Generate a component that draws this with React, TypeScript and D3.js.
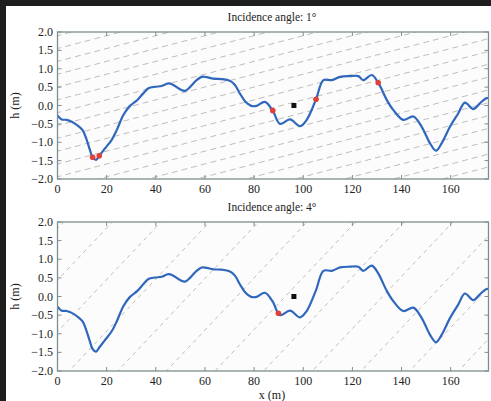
import React from "react";
import * as d3 from "d3";

// Surface profile h(x) along the transect
const profileX = [0, 1.7, 3.7, 5.8, 8.5, 10.2, 11.9, 13.2, 14.3, 15.7, 17, 19.3, 22, 24.1, 26.8, 29.5, 32.5, 34.9, 37, 39.7, 42.4, 45.1, 47.1, 49.9, 51.9, 53.9, 56.6, 58.7, 60.7, 63.4, 66.8, 70.2, 72.2, 74.2, 76.5, 78.8, 81, 84.4, 87.6, 90.5, 94.6, 98.7, 101.4, 105.2, 108.2, 111.6, 115, 119, 122.4, 124.4, 127.9, 130.5, 134, 136.6, 140.7, 144.8, 148.2, 151.6, 154, 156.3, 159.7, 163.1, 165.8, 169.2, 171.9, 174.6, 177];
const profileH = [-0.27, -0.38, -0.39, -0.44, -0.56, -0.67, -0.94, -1.21, -1.41, -1.48, -1.37, -1.17, -0.94, -0.67, -0.26, -0.01, 0.15, 0.33, 0.47, 0.51, 0.53, 0.6, 0.56, 0.44, 0.4, 0.5, 0.69, 0.78, 0.77, 0.73, 0.72, 0.67, 0.56, 0.33, 0.1, -0.01, -0.01, 0.1, -0.14, -0.5, -0.38, -0.56, -0.39, 0.17, 0.69, 0.69, 0.78, 0.8, 0.8, 0.69, 0.83, 0.62, 0.15, -0.12, -0.39, -0.3, -0.58, -1.03, -1.23, -1.03, -0.58, -0.21, 0.08, -0.1, 0.06, 0.2, 0.18];

// Illuminated / shadow-boundary points per incidence angle
const hitsAngle1X = [14.3, 17, 87.6, 105.2, 130.5];
const hitsAngle1H = [-1.41, -1.37, -0.14, 0.17, 0.62];
const hitsAngle4X = [89.9];
const hitsAngle4H = [-0.45];

// Observer location
const observerX = 96.2;
const observerH = 0.0;

const xTicks = [0, 20, 40, 60, 80, 100, 120, 140, 160];
const yTicks = [-2.0, -1.5, -1.0, -0.5, 0.0, 0.5, 1.0, 1.5, 2.0];

const W = 491;
const H = 401;
const left = 57.5;
const right = 488.5;
const xMax = (right - left) / 2.4575;

const axisColor = "#7f8e8e";
const font = "'Liberation Serif', 'DejaVu Serif', serif";

type PanelProps = {
  id: string;
  top: number;
  bottom: number;
  title: string;
  angleDeg: number;
  raySpacing: number;
  rayOffset: number;
  rayRefH: number;
  dash: string;
  hitsX: number[];
  hitsH: number[];
};

function Panel(p: PanelProps) {
  const x = d3.scaleLinear().domain([0, xMax]).range([left, right]);
  const y = d3.scaleLinear().domain([-2, 2]).range([p.bottom, p.top]);
  const line = d3
    .line<number>()
    .x((_, i) => x(profileX[i]))
    .y((d) => y(d))
    .curve(d3.curveCatmullRom.alpha(0.5));

  const slope = Math.tan((p.angleDeg * Math.PI) / 180);
  // Rays: h = rayRefH + slope * (x - x0)
  const origins = d3.range(-12, 12).map((k) => p.rayOffset + k * p.raySpacing);
  const rays = origins.map((x0) => {
    const xa = -300;
    const xb = 500;
    return {
      x1: x(xa),
      y1: y(p.rayRefH + slope * (xa - x0)),
      x2: x(xb),
      y2: y(p.rayRefH + slope * (xb - x0)),
    };
  });

  const tick = 4;
  return (
    <g>
      <defs>
        <clipPath id={p.id}>
          <rect x={left} y={p.top} width={right - left} height={p.bottom - p.top} />
        </clipPath>
      </defs>
      <rect x={left} y={p.top} width={right - left} height={p.bottom - p.top} fill="#fcfcfc" />
      <g clipPath={`url(#${p.id})`}>
        {rays.map((r, i) => (
          <line key={i} {...r} stroke="#bdbdbd" strokeWidth={1} strokeDasharray={p.dash} />
        ))}
        <path d={line(profileH) || ""} fill="none" stroke="#2f67bd" strokeWidth={2.2} strokeLinejoin="round" />
        {p.hitsX.map((hx, i) => (
          <circle key={i} cx={x(hx)} cy={y(p.hitsH[i])} r={2.8} fill="#e0403a" />
        ))}
        <rect x={x(observerX) - 2.5} y={y(observerH) - 2.5} width={5} height={5} fill="#111" />
      </g>
      {xTicks.map((t) => (
        <g key={t}>
          <line x1={x(t)} x2={x(t)} y1={p.bottom} y2={p.bottom - tick} stroke={axisColor} />
          <line x1={x(t)} x2={x(t)} y1={p.top} y2={p.top + tick} stroke={axisColor} />
          <text x={x(t)} y={p.bottom + 14} textAnchor="middle" fontFamily={font} fontSize={12} fill="#222">
            {t}
          </text>
        </g>
      ))}
      {yTicks.map((t) => (
        <g key={t}>
          <line x1={left} x2={left + tick} y1={y(t)} y2={y(t)} stroke={axisColor} />
          <line x1={right} x2={right - tick} y1={y(t)} y2={y(t)} stroke={axisColor} />
          <text x={53} y={y(t) + 4} textAnchor="end" fontFamily={font} fontSize={12} fill="#222">
            {t < 0 ? "\u2212" + Math.abs(t).toFixed(1) : t.toFixed(1)}
          </text>
        </g>
      ))}
      <rect x={left} y={p.top} width={right - left} height={p.bottom - p.top} fill="none" stroke={axisColor} strokeWidth={1.3} />
      <text x={272} y={p.top - 11} textAnchor="middle" fontFamily={font} fontSize={11.5} fill="#222">
        {p.title}
      </text>
      <text
        transform={`translate(19,${(p.top + p.bottom) / 2}) rotate(-90)`}
        textAnchor="middle"
        fontFamily={font}
        fontSize={12}
        fill="#222"
      >
        h (m)
      </text>
    </g>
  );
}

export default function App() {
  return (
    <svg width={W} height={H} style={{ position: "absolute", left: 0, top: 0, background: "#fff" }}>
      <rect x={0} y={0} width={W} height={6} fill="#1e1e1e" />
      <rect x={0} y={0} width={6} height={H} fill="#1e1e1e" />
      <Panel
        id="clip-a1"
        top={32}
        bottom={179}
        title="Incidence angle: 1°"
        angleDeg={1}
        raySpacing={20}
        rayOffset={-3.4}
        rayRefH={-2}
        dash="6,4"
        hitsX={hitsAngle1X}
        hitsH={hitsAngle1H}
      />
      <Panel
        id="clip-a4"
        top={222}
        bottom={371}
        title="Incidence angle: 4°"
        angleDeg={4}
        raySpacing={19.8}
        rayOffset={2.5}
        rayRefH={2}
        dash="4,4"
        hitsX={hitsAngle4X}
        hitsH={hitsAngle4H}
      />
      <text x={272} y={399} textAnchor="middle" fontFamily={font} fontSize={12} fill="#222">
        x (m)
      </text>
    </svg>
  );
}
